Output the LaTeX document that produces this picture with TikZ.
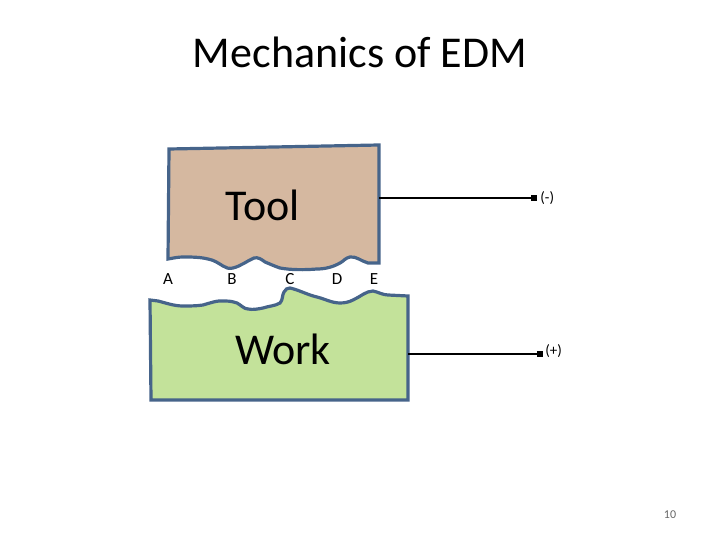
\documentclass[tikz,border=0pt]{standalone}
\usepackage{xcolor}
\usepackage{fontspec}
\setmainfont{Carlito}
\usepackage{tikz}
\usetikzlibrary{positioning}
\definecolor{edgeblue}{HTML}{46648A}
\definecolor{toolfill}{HTML}{D5B8A0}
\definecolor{workfill}{HTML}{C3E29A}

\begin{document}
\begin{tikzpicture}[
  x=1pt, y=-1pt,
  plate/.style={draw=edgeblue, line width=3.2pt, line join=miter},
  bigtxt/.style={font=\fontsize{44}{44}\selectfont, inner sep=0pt},
  gaplab/.style={font=\fontsize{17}{17}\selectfont, inner sep=0pt},
  polelab/.style={font=\fontsize{15}{15}\selectfont, inner sep=0pt},
  wire/.style={draw=black, line width=1.4pt},
  pole/.style={fill=black, minimum size=6pt, inner sep=0pt}
]
\useasboundingbox (0,0) rectangle (720,540);
\node[font=\fontsize{44}{44}\selectfont, inner sep=0pt] (title) at (360,52) {Mechanics of EDM};
% tool
\draw[plate, fill=toolfill] (169,149) -- (379,145) -- (379,263) -- (368,263)
  .. controls (361,261) and (356,256) .. (350,257)
  .. controls (345,258) and (344,261) .. (340,263)
  .. controls (333,267) and (325,269) .. (317,269)
  .. controls (304,270) and (291,270) .. (280,268)
  .. controls (274,266) and (270,264) .. (265,262)
  .. controls (261,259) and (258,257) .. (254,258)
  .. controls (247,261) and (241,266) .. (233,268)
  .. controls (229,269) and (226,268) .. (223,266)
  .. controls (218,263) and (214,260) .. (208,259)
  .. controls (200,257) and (191,257) .. (183,257)
  .. controls (178,257) and (174,258) .. (168,259) -- cycle;
% work
\draw[plate, fill=workfill] (150,300) -- (158,301)
  .. controls (166,303) and (174,306) .. (183,306)
  .. controls (190,306) and (196,306) .. (203,305)
  .. controls (210,303) and (218,300) .. (225,301)
  .. controls (231,301) and (234,302) .. (237,303)
  .. controls (241,305) and (244,309) .. (248,309)
  .. controls (253,310) and (258,309) .. (263,308)
  .. controls (269,306) and (275,306) .. (280,303)
  .. controls (283,300) and (282,295) .. (284,292)
  .. controls (285,289) and (288,288) .. (290,288)
  .. controls (299,290) and (308,295) .. (317,297)
  .. controls (325,299) and (332,303) .. (340,303)
  .. controls (345,303) and (349,302) .. (353,300)
  .. controls (360,297) and (366,291) .. (373,291)
  .. controls (378,292) and (383,295) .. (388,295)
  -- (408,296) -- (408,400) -- (151,400) -- cycle;
\node[bigtxt] (tool) at (263,205) {Tool};
\node[bigtxt] (work) at (283,349) {Work};
\node[gaplab] (a) at (168,279) {A};
\node[gaplab] (b) at (232,279) {B};
\node[gaplab] (c) at (290,279) {C};
\node[gaplab] (d) at (337,279) {D};
\node[gaplab] (e) at (374,279) {E};
\coordinate (toolend) at (379,198);
\coordinate (workend) at (408,354);
\node[pole] (minus) at (534,198) {};
\node[pole] (plus) at (540,354) {};
\draw[wire] (toolend) -- (minus);
\draw[wire] (workend) -- (plus);
\node[polelab, right=3pt of minus] (minuslab) {(-)};
\node[polelab, right=2pt of plus, yshift=3pt] (pluslab) {(+)};
\node[font=\fontsize{12}{12}\selectfont, text=black!60, inner sep=0pt] (pagenum) at (670,515) {10};
\end{tikzpicture}
\end{document}
